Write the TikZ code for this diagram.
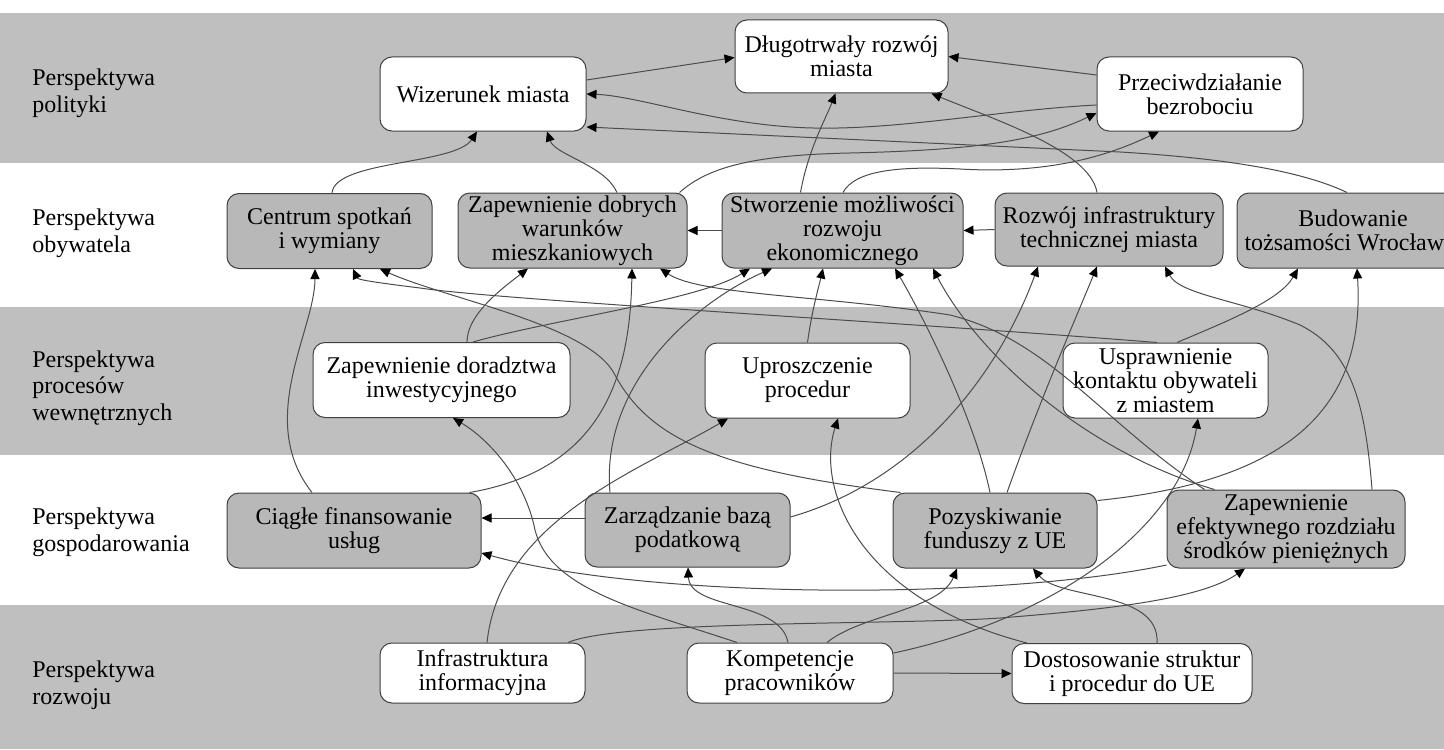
\documentclass[tikz,border=0pt]{standalone}
\usepackage{fontspec}
\setmainfont{Liberation Serif}
\usetikzlibrary{arrows.meta,calc}
\definecolor{bandgray}{gray}{0.75}
\definecolor{nodegray}{gray}{0.72}
\definecolor{edgegray}{gray}{0.3}
\begin{document}
\begin{tikzpicture}[x=0.5pt,y=-0.5pt,
  box/.style={draw=black!75, line width=0.5pt, rounded corners=6pt, align=center, inner sep=0pt,
              font=\fontsize{12pt}{12pt}\selectfont},
  wbox/.style={box, fill=white},
  gbox/.style={box, fill=nodegray},
  lab/.style={anchor=west, align=left, inner sep=0pt, font=\fontsize{12pt}{13.3pt}\selectfont},
  conn/.style={draw=edgegray, line width=0.5pt, -{Triangle[length=5pt,width=4.5pt,color=black]}},
  band/.style={fill=bandgray, draw=none}]
\useasboundingbox (0,0) rectangle (1444,749);
\clip (0,0) rectangle (1444,749);
% bands
\fill[band] (0,13) rectangle (1444,163);
\fill[band] (0,307) rectangle (1444,455);
\fill[band] (0,605) rectangle (1444,749);
% labels
\node[lab] (lpol) at (32,93.5) {Perspektywa\\polityki};
\node[lab] (loby) at (32,233.5) {Perspektywa\\obywatela};
\node[lab] (lpro) at (32,388) {Perspektywa\\procesów\\wewnętrznych};
\node[lab] (lgos) at (32,532.5) {Perspektywa\\gospodarowania};
\node[lab] (lroz) at (32,685) {Perspektywa\\rozwoju};
% row 1
\node[wbox, minimum width=103pt, minimum height=37pt] (wiz) at (483,94) {Wizerunek miasta};
\node[wbox, minimum width=106.5pt, minimum height=36.5pt] (dlug) at (841.5,56.5) {Długotrwały rozwój\\miasta};
\node[wbox, minimum width=103pt, minimum height=37pt] (prz) at (1200,94) {Przeciwdziałanie\\bezrobociu};
% row 2
\node[gbox, minimum width=102.5pt, minimum height=37.5pt] (cen) at (329.5,231) {Centrum spotkań\\i wymiany};
\node[gbox, minimum width=114.5pt, minimum height=37.5pt] (zdob) at (572.5,230.5) {Zapewnienie dobrych\\warunków\\mieszkaniowych};
\node[gbox, minimum width=120.5pt, minimum height=37.5pt] (stw) at (842.5,230.5) {Stworzenie możliwości\\rozwoju\\ekonomicznego};
\node[gbox, minimum width=114pt, minimum height=36.5pt] (roz) at (1109,229.5) {Rozwój infrastruktury\\technicznej miasta};
\node[gbox, minimum width=116pt, minimum height=37.5pt] (bud) at (1353,230.5) {Budowanie\\tożsamości Wrocławia};
% row 3
\node[wbox, minimum width=128.5pt, minimum height=37.5pt] (zdor) at (441.5,380) {Zapewnienie doradztwa\\inwestycyjnego};
\node[wbox, minimum width=102.5pt, minimum height=37.5pt] (upr) at (807.5,380.5) {Uproszczenie\\procedur};
\node[wbox, minimum width=102.5pt, minimum height=37.5pt] (usp) at (1165.5,380.5) {Usprawnienie\\kontaktu obywateli\\z miastem};
% row 4
\node[gbox, minimum width=127pt, minimum height=37.5pt] (cia) at (354,530.5) {Ciągłe finansowanie\\usług};
\node[gbox, minimum width=102.5pt, minimum height=37pt] (zar) at (687.5,530) {Zarządzanie bazą\\podatkową};
\node[gbox, minimum width=102pt, minimum height=37.5pt] (poz) at (995,530.5) {Pozyskiwanie\\funduszy z UE};
\node[gbox, minimum width=119pt, minimum height=39pt] (zef) at (1286,529) {Zapewnienie\\efektywnego rozdziału\\środków pieniężnych};
% row 5
\node[wbox, minimum width=102.5pt, minimum height=30pt] (inf) at (482.5,673) {Infrastruktura\\informacyjna};
\node[wbox, minimum width=103pt, minimum height=30pt] (kom) at (790,673) {Kompetencje\\pracowników};
\node[wbox, minimum width=120pt, minimum height=30pt] (dos) at (1132,673.5) {Dostosowanie struktur\\i procedur do UE};
% connectors
\draw[conn] ($(wiz.east)+(0,-14)$) -- ($(dlug.west)+(0,1)$);
\draw[conn] ($(prz.west)+(0,-19)$) -- (dlug.east);
\draw[conn] ($(stw.north)+(-42,0)$) .. controls (808,150) and (826,118) .. ($(dlug.south)+(-6,0)$);
\draw[conn] ($(roz.north)+(-12,0)$) .. controls (1090,150) and (990,118) .. ($(dlug.south)+(90,0)$);
\draw[conn] ($(prz.west)+(0,11)$) .. controls (1000,110) and (900,130) .. (813,128) .. controls (720,126) and (640,96) .. (wiz.east);
\draw[conn] ($(bud.north)+(-6,0)$) .. controls (1300,170) and (1220,158) .. (1120,152) -- ($(wiz.east)+(0,33)$);
\draw[conn] ($(cen.north)+(2.5,0)$) .. controls (335,160) and (455,165) .. ($(wiz.south)+(-6,0)$);
\draw[conn] ($(zdob.north)+(44.5,0)$) .. controls (605,165) and (555,155) .. ($(wiz.south)+(64,0)$);
\draw[conn] ($(zdob.north east)+(-8,0)$) .. controls (710,165) and (760,155) .. (850,153) .. controls (980,150) and (1040,140) .. ($(prz.west)+(0,19)$);
\draw[conn] ($(stw.north)+(0.5,0)$) .. controls (855,170) and (900,166) .. (960,169) .. controls (1060,175) and (1120,150) .. ($(prz.south)+(-41,0)$);
\draw[conn] (stw.west) -- (zdob.east);
\draw[conn] (roz.west) -- (stw.east);
\draw[conn] ($(cia.north)+(-42,0)$) .. controls (255,420) and (315,330) .. ($(cen.south)+(-14.5,0)$);
\draw[conn] ($(usp.north)+(-8.5,0)$) .. controls (900,322) and (500,300) .. (420,288) .. controls (380,283) and (358,280) .. ($(cen.south)+(23.5,0)$);
\draw[conn] ($(poz.north west)+(8,0)$) .. controls (720,470) and (650,440) .. (615,375) .. controls (590,325) and (450,300) .. ($(cen.south)+(50.5,0)$);
\draw[conn] ($(zdor.north)+(25.5,0)$) .. controls (467,315) and (500,290) .. ($(zdob.south)+(-44.5,0)$);
\draw[conn] ($(cia.north east)+(-12,0)$) .. controls (600,470) and (630,380) .. ($(zdob.south)+(59.5,0)$);
\draw[conn] ($(zef.north west)+(38,0)$) .. controls (1100,420) and (1050,340) .. (950,315) .. controls (820,295) and (700,295) .. ($(zdob.south)+(87.5,0)$);
\draw[conn] ($(zdor.north)+(31.5,0)$) .. controls (550,320) and (700,300) .. ($(stw.south)+(-92.5,0)$);
\draw[conn] ($(zar.north)+(-77.5,0)$) .. controls (600,380) and (700,300) .. ($(stw.south)+(-70.5,0)$);
\draw[conn] (upr.north) .. controls (812,310) and (818,290) .. ($(stw.south)+(-19.5,0)$);
\draw[conn] ($(poz.north)+(-5,0)$) .. controls (975,420) and (925,320) .. ($(stw.south)+(52.5,0)$);
\draw[conn] ($(zef.north west)+(48,0)$) .. controls (1080,450) and (975,350) .. ($(stw.south)+(90.5,0)$);
\draw[conn] ($(zar.east)+(0,-13)$) .. controls (920,480) and (1000,370) .. ($(roz.south)+(-71,0)$);
\draw[conn] ($(poz.north)+(12,0)$) .. controls (1040,400) and (1075,320) .. ($(roz.south)+(-12,0)$);
\draw[conn] ($(zef.north)+(86,0)$) .. controls (1365,400) and (1350,350) .. (1300,325) .. controls (1240,300) and (1180,295) .. ($(roz.south)+(56,0)$);
\draw[conn] ($(usp.north)+(11.5,0)$) .. controls (1230,320) and (1280,300) .. ($(bud.south)+(-55,0)$);
\draw[conn] ($(poz.east)+(0,-30)$) .. controls (1300,480) and (1365,400) .. ($(bud.south)+(4,0)$);
\draw[conn] ($(kom.north)+(-53,0)$) .. controls (640,610) and (550,590) .. (535,530) .. controls (525,480) and (490,440) .. ($(zdor.south)+(11.5,0)$);
\draw[conn] ($(inf.north)+(4.5,0)$) .. controls (500,520) and (640,470) .. ($(upr.south)+(-79.5,0)$);
\draw[conn] ($(dos.north)+(-105,0)$) .. controls (860,600) and (815,490) .. ($(upr.south)+(30.5,0)$);
\draw[conn] ($(kom.east)+(0,-20)$) .. controls (1050,620) and (1180,530) .. ($(usp.south)+(32.5,0)$);
\draw[conn] ($(zar.west)+(0,-12)$) -- ($(cia.east)+(0,-12.5)$);
\draw[conn] ($(zef.west)+(0,36)$) .. controls (1000,600) and (650,600) .. ($(cia.east)+(0,22.5)$);
\draw[conn] ($(kom.north)+(-2,0)$) .. controls (780,600) and (690,610) .. ($(zar.south)+(0.5,0)$);
\draw[conn] ($(kom.north)+(37,0)$) .. controls (860,615) and (940,610) .. ($(poz.south)+(-38,0)$);
\draw[conn] ($(dos.north)+(25,0)$) .. controls (1160,590) and (1060,600) .. ($(poz.south)+(38,0)$);
\draw[conn] ($(inf.north)+(85.5,0)$) .. controls (620,620) and (900,625) .. (1000,618) .. controls (1100,610) and (1200,600) .. ($(zef.south)+(-41,0)$);
\draw[conn] (kom.east) -- (dos.west);
\end{tikzpicture}
\end{document}
